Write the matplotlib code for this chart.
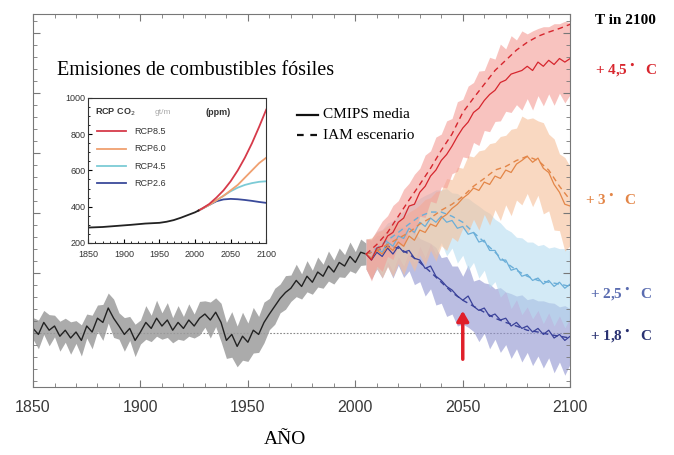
import numpy as np
import matplotlib.pyplot as plt
from matplotlib.ticker import MultipleLocator

# --- datos (anomalia, unidades arbitrarias) ---
hist_years = np.arange(1850, 2005.1, 2.5)
hist_mean = [0.08, -0.02, 0.18, 0.05, 0.12, -0.05, 0.05, -0.08, 0.02, -0.12,
             0.12, 0.02, 0.25, 0.18, 0.42, 0.25, 0.12, -0.02, 0.08, -0.12,
             0.02, 0.18, 0.08, 0.25, 0.12, 0.22, 0.05, 0.18, 0.08, 0.22,
             0.12, 0.25, 0.32, 0.22, 0.35, 0.18, -0.12, -0.02, -0.22, -0.05,
             -0.15, 0.05, -0.02, 0.18, 0.32, 0.45, 0.58, 0.68, 0.75, 0.88,
             0.78, 0.95, 0.85, 1.02, 0.95, 1.12, 1.02, 1.18, 1.12, 1.28,
             1.18, 1.35, 1.32]
hist_spread = [0.18, 0.24, 0.2, 0.26, 0.18, 0.25, 0.2, 0.27, 0.19, 0.26,
               0.2, 0.28, 0.22, 0.3, 0.25, 0.32, 0.22, 0.28, 0.2, 0.27,
               0.2, 0.28, 0.22, 0.3, 0.22, 0.29, 0.21, 0.28, 0.2, 0.27,
               0.2, 0.28, 0.22, 0.3, 0.24, 0.32, 0.3, 0.38, 0.34, 0.4,
               0.32, 0.38, 0.3, 0.34, 0.26, 0.3, 0.24, 0.28, 0.22, 0.27,
               0.21, 0.26, 0.2, 0.25, 0.2, 0.25, 0.2, 0.24, 0.19, 0.24,
               0.18, 0.22, 0.18]

scen_years = np.arange(2005, 2100.1, 2.5)
iam_years = np.arange(2005, 2100.1, 5)

rcp85_mean = [1.32, 1.22, 1.42, 1.45, 1.62, 1.68, 1.85, 1.92, 2.12, 2.15,
              2.35, 2.45, 2.62, 2.72, 2.88, 2.98, 3.12, 3.28, 3.42, 3.52,
              3.68, 3.75, 3.88, 3.98, 4.05, 4.18, 4.22, 4.32, 4.35, 4.38,
              4.45, 4.38, 4.52, 4.45, 4.55, 4.48, 4.58, 4.52, 4.58]
rcp85_spread = [0.25, 0.35, 0.3, 0.42, 0.34, 0.45, 0.36, 0.48, 0.38, 0.5,
                0.4, 0.52, 0.42, 0.55, 0.44, 0.56, 0.46, 0.58, 0.48, 0.6,
                0.5, 0.62, 0.5, 0.62, 0.52, 0.64, 0.52, 0.64, 0.54, 0.66,
                0.54, 0.66, 0.56, 0.66, 0.56, 0.68, 0.58, 0.68, 0.6]
rcp85_iam = [1.32, 1.48, 1.68, 1.95, 2.22, 2.48, 2.75, 3.05, 3.32, 3.68,
             3.92, 4.15, 4.38, 4.55, 4.72, 4.85, 4.95, 5.02, 5.08, 5.15]

rcp60_mean = [1.32, 1.25, 1.38, 1.32, 1.45, 1.38, 1.52, 1.45, 1.62, 1.55,
              1.72, 1.68, 1.82, 1.78, 1.92, 1.98, 2.08, 2.15, 2.25, 2.32,
              2.42, 2.38, 2.52, 2.48, 2.62, 2.58, 2.72, 2.68, 2.82, 2.88,
              2.95, 2.85, 2.92, 2.75, 2.68, 2.48, 2.35, 2.15, 2.12]
rcp60_spread = [0.25, 0.34, 0.3, 0.4, 0.34, 0.44, 0.36, 0.48, 0.4, 0.52,
                0.42, 0.55, 0.44, 0.58, 0.46, 0.6, 0.48, 0.62, 0.5, 0.64,
                0.52, 0.66, 0.54, 0.68, 0.56, 0.7, 0.58, 0.72, 0.6, 0.74,
                0.62, 0.74, 0.62, 0.76, 0.64, 0.76, 0.64, 0.78, 0.66]
rcp60_iam = [1.32, 1.38, 1.48, 1.58, 1.68, 1.82, 1.92, 2.05, 2.15, 2.28,
             2.45, 2.58, 2.72, 2.78, 2.88, 2.95, 2.88, 2.72, 2.45, 2.22]

rcp45_mean = [1.32, 1.25, 1.42, 1.35, 1.52, 1.45, 1.62, 1.58, 1.75, 1.68,
              1.85, 1.78, 1.92, 1.85, 1.95, 1.85, 1.88, 1.75, 1.78, 1.65,
              1.68, 1.52, 1.55, 1.38, 1.38, 1.22, 1.22, 1.05, 1.08, 0.95,
              0.98, 0.88, 0.92, 0.82, 0.88, 0.78, 0.85, 0.75, 0.82]
rcp45_spread = [0.25, 0.32, 0.28, 0.38, 0.32, 0.42, 0.34, 0.46, 0.38, 0.5,
                0.4, 0.52, 0.42, 0.54, 0.44, 0.56, 0.46, 0.58, 0.48, 0.6,
                0.5, 0.6, 0.5, 0.62, 0.52, 0.62, 0.52, 0.64, 0.52, 0.64,
                0.54, 0.64, 0.54, 0.66, 0.54, 0.66, 0.56, 0.66, 0.56]
rcp45_iam = [1.32, 1.42, 1.55, 1.68, 1.82, 1.95, 2.02, 2.02, 1.95, 1.85,
             1.68, 1.52, 1.35, 1.18, 1.05, 0.95, 0.88, 0.85, 0.82, 0.78]

rcp26_mean = [1.32, 1.22, 1.35, 1.28, 1.42, 1.32, 1.45, 1.35, 1.38, 1.25,
              1.22, 1.08, 1.12, 0.95, 0.88, 0.78, 0.72, 0.62, 0.55, 0.62,
              0.45, 0.38, 0.42, 0.28, 0.32, 0.22, 0.25, 0.12, 0.18, 0.08,
              0.12, 0.02, 0.08, -0.02, 0.05, -0.08, -0.02, -0.12, -0.05]
rcp26_spread = [0.25, 0.32, 0.28, 0.36, 0.3, 0.4, 0.32, 0.42, 0.34, 0.44,
                0.36, 0.46, 0.38, 0.48, 0.38, 0.5, 0.4, 0.5, 0.4, 0.52,
                0.42, 0.52, 0.42, 0.54, 0.42, 0.54, 0.44, 0.54, 0.44, 0.56,
                0.44, 0.56, 0.46, 0.56, 0.46, 0.58, 0.46, 0.58, 0.46]
rcp26_iam = [1.32, 1.38, 1.45, 1.42, 1.32, 1.18, 1.02, 0.85, 0.68, 0.55,
             0.45, 0.35, 0.25, 0.18, 0.12, 0.05, 0.02, -0.02, -0.05, -0.08]

# inset: CO2 (ppm)
co2_hist_years = [1850, 1870, 1890, 1910, 1930, 1950, 1960, 1970, 1980, 1990, 2000, 2005]
co2_hist = [285, 288, 294, 300, 307, 311, 317, 326, 339, 354, 369, 379]
co2_years = [2005, 2010, 2020, 2030, 2040, 2050, 2060, 2070, 2080, 2090, 2100]
co2_85 = [379, 390, 415, 450, 490, 540, 600, 670, 750, 840, 935]
co2_60 = [379, 389, 410, 435, 460, 490, 520, 560, 600, 640, 670]
co2_45 = [379, 389, 410, 435, 460, 485, 505, 520, 530, 537, 540]
co2_26 = [379, 389, 410, 430, 440, 443, 441, 437, 432, 426, 421]

labels_2100 = ['+ 4,5$^\\bullet$  C', '+ 3$^\\bullet$  C', '+ 2,5$^\\bullet$  C', '+ 1,8$^\\bullet$  C']

fig = plt.figure(figsize=(6.74, 4.55), dpi=100)
ax = fig.add_axes([0.049, 0.149, 0.797, 0.82])

ax.fill_between(hist_years, np.array(hist_mean) - hist_spread, np.array(hist_mean) + hist_spread,
                color='#9c9c9c', alpha=0.85, lw=0)
ax.plot(hist_years, hist_mean, color='#222222', lw=1.0)

scen = [
    (rcp26_mean, rcp26_spread, rcp26_iam, '#3a429a', '#8f93d0'),
    (rcp45_mean, rcp45_spread, rcp45_iam, '#6aaed8', '#b7dcf0'),
    (rcp60_mean, rcp60_spread, rcp60_iam, '#e38648', '#f6bf98'),
    (rcp85_mean, rcp85_spread, rcp85_iam, '#d6262e', '#f49c95'),
]
for mean, spread, iam, lc, bc in scen:
    m = np.array(mean)
    ax.fill_between(scen_years, m - spread, m + spread, color=bc, alpha=0.6, lw=0)
for mean, spread, iam, lc, bc in scen:
    ax.plot(scen_years, mean, color=lc, lw=0.9)
    ax.plot(iam_years, iam, color=lc, lw=1.0, ls=(0, (4, 3)))

ax.axhline(0, color='#888888', lw=0.8, ls=(0, (1.5, 1.5)), zorder=0)

ax.annotate('', xy=(2050, 0.42), xytext=(2050, -0.48),
            arrowprops=dict(arrowstyle='-|>,head_width=0.35,head_length=0.6',
                            color='#e0202a', lw=2.5))

ax.set_xlim(1850, 2100)
ax.set_ylim(-0.9, 5.32)
ax.set_xticks([1850, 1900, 1950, 2000, 2050, 2100])
ax.xaxis.set_minor_locator(MultipleLocator(10))
ax.yaxis.set_major_locator(MultipleLocator(1))
ax.yaxis.set_minor_locator(MultipleLocator(0.2))
ax.tick_params(axis='both', which='both', direction='in', top=True, right=True, color='#777777')
ax.tick_params(which='major', length=5)
ax.tick_params(which='minor', length=3)
ax.tick_params(axis='y', labelleft=False)
ax.tick_params(axis='x', pad=9, labelsize=11.5, labelcolor='#3a3a3a')
for lab in ax.get_xticklabels():
    lab.set_family('Liberation Sans')
for s in ax.spines.values():
    s.set_color('#777777')

serif = 'Liberation Serif'
fig.text(0.085, 0.846, 'Emisiones de combustibles fósiles', family=serif, fontsize=14.5,
         va='center', ha='left')
fig.text(0.423, 0.033, 'AÑO', family=serif, fontsize=14, ha='center', va='center')

# leyenda CMIPS / IAM
fig.add_artist(plt.Line2D([0.44, 0.472], [0.748, 0.748], color='#111111', lw=1.6))
fig.add_artist(plt.Line2D([0.44, 0.472], [0.703, 0.703], color='#111111', lw=1.6, ls=(0, (3, 3))))
fig.text(0.479, 0.748, 'CMIPS media', family=serif, fontsize=11, va='center')
fig.text(0.479, 0.703, 'IAM escenario', family=serif, fontsize=11, va='center')

# etiquetas de la derecha
fig.text(0.883, 0.956, 'T in 2100', family=serif, fontsize=11, weight='bold', va='center')
lab_y = [0.846, 0.56, 0.354, 0.262]
lab_c = ['#d8262e', '#e38648', '#5a6cb0', '#2a3272']
lab_x = [0.883, 0.868, 0.875, 0.875]
for t, y, c, x in zip(labels_2100, lab_y, lab_c, lab_x):
    fig.text(x, y, t, family=serif, fontsize=11, weight='bold', color=c, va='center')

# inset CO2
axi = fig.add_axes([0.131, 0.466, 0.264, 0.319])
axi.plot(co2_years, co2_26, color='#3a4a9a', lw=1.3)
axi.plot(co2_years, co2_45, color='#7ccbd6', lw=1.3)
axi.plot(co2_years, co2_60, color='#f0a070', lw=1.3)
axi.plot(co2_years, co2_85, color='#d63a4a', lw=1.3)
axi.plot(co2_hist_years, co2_hist, color='#222222', lw=1.3)
axi.set_xlim(1850, 2100)
axi.set_ylim(200, 1000)
axi.set_xticks([1850, 1900, 1950, 2000, 2050, 2100])
axi.set_yticks([200, 400, 600, 800, 1000])
axi.xaxis.set_minor_locator(MultipleLocator(10))
axi.yaxis.set_minor_locator(MultipleLocator(50))
axi.tick_params(which='both', direction='in', labelsize=6.5, labelcolor='#333333')
axi.tick_params(axis='x', pad=5)
axi.tick_params(axis='y', pad=2)
axi.tick_params(which='minor', length=1.5)
axi.tick_params(which='major', length=3)
for lab in axi.get_xticklabels() + axi.get_yticklabels():
    lab.set_family('Liberation Sans')
for s in axi.spines.values():
    s.set_color('#333333')

axi.text(0.04, 0.9, 'RCP CO$_2$', transform=axi.transAxes, fontsize=6.5,
         family='Liberation Sans', weight='bold', color='#333333', va='center')
axi.text(0.37, 0.9, 'gt/m', transform=axi.transAxes, fontsize=6, color='#aaaaaa', va='center',
         family='Liberation Sans')
axi.text(0.66, 0.9, '(ppm)', transform=axi.transAxes, fontsize=6.5, weight='bold',
         family='Liberation Sans', color='#333333', va='center')
leg_names = ['RCP8.5', 'RCP6.0', 'RCP4.5', 'RCP2.6']
leg_cols = ['#d63a4a', '#f0a070', '#7ccbd6', '#3a4a9a']
for i, (n, c) in enumerate(zip(leg_names, leg_cols)):
    y = 0.77 - i * 0.12
    axi.plot([0.05, 0.21], [y, y], transform=axi.transAxes, color=c, lw=1.3)
    axi.text(0.26, y, n, transform=axi.transAxes, fontsize=6.5, family='Liberation Sans',
             color='#333333', va='center')

fig.savefig('out.png', dpi=100)
